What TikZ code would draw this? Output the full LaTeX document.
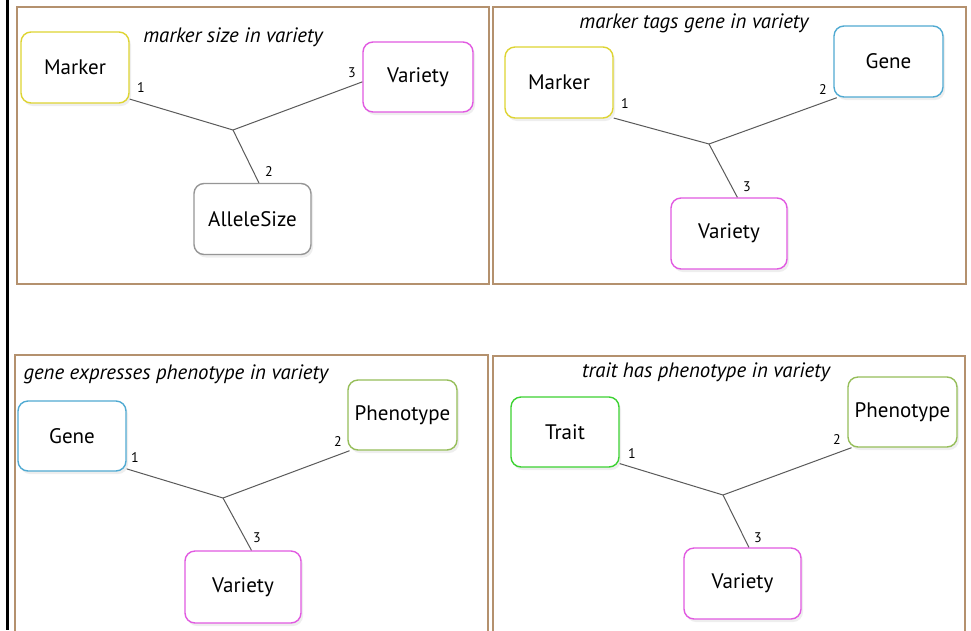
\documentclass[tikz,border=0pt]{standalone}
\usepackage{fontspec}
\setmainfont{PT Sans}
\usetikzlibrary{shadows}
\definecolor{frame}{RGB}{180,145,110}
\definecolor{cmarker}{RGB}{222,212,50}
\definecolor{cvariety}{RGB}{225,90,225}
\definecolor{cgene}{RGB}{80,170,210}
\definecolor{callele}{RGB}{150,150,150}
\definecolor{cpheno}{RGB}{150,190,90}
\definecolor{ctrait}{RGB}{60,210,50}
\definecolor{link}{RGB}{90,90,90}

\begin{document}
\begin{tikzpicture}[x=1pt,y=-1pt,
  panel/.style={draw=frame,line width=2.6pt},
  ent/.style={draw,line width=1.4pt,rounded corners=10pt,fill=white,
    minimum width=108pt,minimum height=71pt,inner sep=0pt,
    font=\fontsize{21}{24}\selectfont,
    drop shadow={opacity=0.13,shadow xshift=2pt,shadow yshift=-3pt}},
  wide/.style={minimum width=117pt},
  title/.style={font=\fontsize{20.8}{24}\selectfont\itshape},
  num/.style={font=\fontsize{14}{16}\selectfont,inner sep=0pt},
  lnk/.style={draw=link,line width=1pt}]
  \useasboundingbox (0,0) rectangle (971,630);
  \fill[white] (0,0) rectangle (971,630);
  % left rule
  \draw[line width=3pt] (7,0)--(7,630);
  % frames
  \draw[panel] (17,7) rectangle (489,284);
  \draw[panel] (493,7) rectangle (966,284);
  \draw[panel] (15,640)--(15,355)--(488,355)--(488,640);
  \draw[panel] (493,640)--(493,356)--(965,356)--(965,640);
  %marker size in variety
  \node[title] (t1) at (233,37) {marker size in variety};
  \node[ent,draw=cmarker] (m1) at (75,67.5) {Marker};
  \node[ent,draw=cvariety,minimum width=110pt,minimum height=70pt] (v1) at (418,77) {Variety};
  \node[ent,wide,draw=callele] (a1) at (252.5,219) {AlleleSize};
  \coordinate (j1) at (233,130);
  \draw[lnk] (m1.-30)--(j1);
  \draw[lnk] (v1.185)--(j1);
  \draw[lnk] (a1.80)--(j1);
  \node[num] (n11) at (141,88) {1};
  \node[num] (n13) at (352,73) {3};
  \node[num] (n12) at (269,172) {2};
  %marker tags gene in variety
  \node[title] (t2) at (694,23) {marker tags gene in variety};
  \node[ent,draw=cmarker] (m2) at (559,82.5) {Marker};
  \node[ent,draw=cgene,minimum width=109pt] (g2) at (888.5,61.5) {Gene};
  \node[ent,draw=cvariety,minimum width=116pt] (v2) at (729,233.5) {Variety};
  \coordinate (j2) at (709,144);
  \draw[lnk] (m2.-33)--(j2);
  \draw[lnk] (g2.215)--(j2);
  \draw[lnk] (v2.77)--(j2);
  \node[num] (n21) at (625,104) {1};
  \node[num] (n22) at (823,90) {2};
  \node[num] (n23) at (747,187) {3};
  %gene expresses phenotype in variety
  \node[title,anchor=west] (t3) at (20,374) {gene expresses phenotype in variety};
  \node[ent,draw=cgene,minimum height=70pt] (g3) at (72,436) {Gene};
  \node[ent,draw=cpheno,minimum width=109pt,minimum height=70pt] (p3) at (402.5,415) {Phenotype};
  \node[ent,draw=cvariety,minimum width=116pt,minimum height=72pt] (v3) at (243,587) {Variety};
  \coordinate (j3) at (223,498);
  \draw[lnk] (g3.-31)--(j3);
  \draw[lnk] (p3.214)--(j3);
  \draw[lnk] (v3.77)--(j3);
  \node[num] (n31) at (135,458) {1};
  \node[num] (n32) at (338,442) {2};
  \node[num] (n33) at (257,538) {3};
  %trait has phenotype in variety
  \node[title] (t4) at (706,372) {trait has phenotype in variety};
  \node[ent,draw=ctrait,minimum height=70pt] (r4) at (565,432) {Trait};
  \node[ent,draw=cpheno,minimum width=109pt,minimum height=70pt] (p4) at (902.5,412) {Phenotype};
  \node[ent,wide,draw=cvariety] (v4) at (742.5,583.5) {Variety};
  \coordinate (j4) at (723,495);
  \draw[lnk] (r4.-30)--(j4);
  \draw[lnk] (p4.215)--(j4);
  \draw[lnk] (v4.80)--(j4);
  \node[num] (n41) at (632,454) {1};
  \node[num] (n42) at (837,440) {2};
  \node[num] (n43) at (758,538) {3};
\end{tikzpicture}
\end{document}
